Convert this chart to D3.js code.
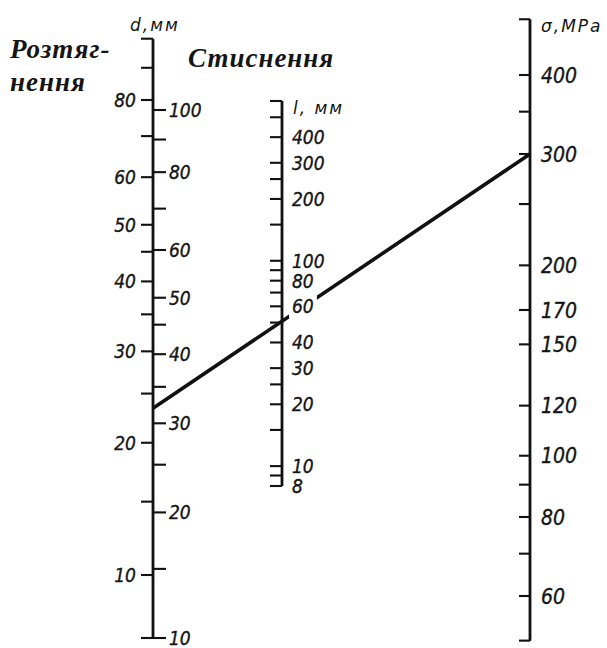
<!DOCTYPE html>
<html>
<head>
<meta charset="utf-8">
<script src="https://cdn.jsdelivr.net/npm/d3@7"></script>
<style>
  body { margin: 0; background: #fff; }
  svg { display: block; }
  .num { font-family: "DejaVu Sans Condensed", "DejaVu Sans", sans-serif; font-style: italic; font-size: 19px; fill: #151515; stroke: #151515; stroke-width: 0.35px; }
  .num.big { font-size: 21px; }
  .unit { font-family: "DejaVu Sans", sans-serif; font-style: italic; font-size: 17px; fill: #151515; letter-spacing: 2px; }
  .title { font-family: "Liberation Serif", "DejaVu Serif", serif; font-style: italic; font-weight: bold; font-size: 27px; letter-spacing: 1px; fill: #151515; }
  .axis { stroke: #111; stroke-width: 2.8; fill: none; }
  .tick { stroke: #111; stroke-width: 2.1; }
  .key { stroke: #111; stroke-width: 3.6; stroke-linecap: butt; }
</style>
</head>
<body>
<script>
// Diameter d, mm — tension scale (left of the shared axis)
const dTensionTicks  = [100, 90, 80, 70, 60, 50, 45, 40, 35, 30, 25, 20, 15, 10];
const dTensionLabels = [80, 60, 50, 40, 30, 20, 10];
// Diameter d, mm — compression scale (right of the shared axis)
const dCompTicks  = [100, 90, 80, 70, 60, 50, 45, 40, 35, 30, 25, 20, 15, 10];
const dCompLabels = [100, 80, 60, 50, 40, 30, 20, 10];
// Length l, mm
const lExtent = [600, 8];
const lTicks  = [500, 400, 300, 250, 200, 150, 100, 90, 80, 70, 60, 50, 40, 30, 25, 20, 15, 10, 9, 8];
const lLabels = [400, 300, 200, 100, 80, 60, 40, 30, 20, 10, 8];
// Stress sigma, MPa
const sigmaExtent = [490, 51];
const sigmaTicks  = [400, 350, 300, 250, 200, 170, 150, 120, 100, 90, 80, 70, 60];
const sigmaLabels = [400, 300, 200, 170, 150, 120, 100, 80, 60];
// Worked example: key line from d (compression) to sigma
const exampleD = 32;
const exampleSigma = 300;

const W = 607, H = 648;
const xD = 153, xL = 282, xS = 530;

// Functional scales of the nomogram (shifted logarithms for d)
const tensionShift = 8, compShift = 10;
const yTbase = d3.scaleLog().domain([80 + tensionShift, 10 + tensionShift]).range([100, 575]);
const yCbase = d3.scaleLog().domain([100 + compShift, 10 + compShift]).range([110, 638]);
const yTension = d => yTbase(d + tensionShift);
const yComp = d => yCbase(d + compShift);
const yL = d3.scaleLog().domain(lExtent).range([101, 486]);
const yS = d3.scaleLog().domain([400, 60]).range([75, 596]);

const svg = d3.select("body").append("svg").attr("width", W).attr("height", H);
svg.append("rect").attr("width", W).attr("height", H).attr("fill", "#fff");

// ---- d axis (shared line) ----
const gD = svg.append("g");
gD.append("line").attr("class", "axis")
  .attr("x1", xD).attr("x2", xD)
  .attr("y1", yTension(d3.max(dTensionTicks))).attr("y2", yComp(d3.min(dCompTicks)) + 1);
gD.selectAll(".tt").data(dTensionTicks).join("line").attr("class", "tick")
  .attr("x1", xD - 12).attr("x2", xD).attr("y1", yTension).attr("y2", yTension);
gD.selectAll(".ct").data(dCompTicks).join("line").attr("class", "tick")
  .attr("x1", xD).attr("x2", xD + 13).attr("y1", yComp).attr("y2", yComp);
// bottom end cap
gD.append("line").attr("class", "tick")
  .attr("x1", xD - 12).attr("x2", xD).attr("y1", yComp(10)).attr("y2", yComp(10));
gD.selectAll(".tl").data(dTensionLabels).join("text").attr("class", "num")
  .attr("x", xD - 17).attr("y", yTension).attr("dy", "0.36em")
  .attr("text-anchor", "end").text(d => d);
gD.selectAll(".cl").data(dCompLabels).join("text").attr("class", "num")
  .attr("x", xD + 16).attr("y", yComp).attr("dy", "0.36em")
  .text(d => d);
gD.append("text").attr("class", "unit").attr("x", xD - 23).attr("y", 31).text("d,мм");

// ---- key line ----
svg.append("line").attr("class", "key")
  .attr("x1", xD).attr("y1", yComp(exampleD))
  .attr("x2", xS).attr("y2", yS(exampleSigma));

// ---- l axis ----
const gL = svg.append("g");
gL.append("line").attr("class", "axis")
  .attr("x1", xL).attr("x2", xL).attr("y1", yL(lExtent[0])).attr("y2", yL(lExtent[1]));
gL.selectAll(".lt").data([lExtent[0], ...lTicks]).join("line").attr("class", "tick")
  .attr("x1", xL - 12).attr("x2", xL).attr("y1", yL).attr("y2", yL);
const lLab = gL.selectAll(".ll").data(lLabels).join("g");
lLab.append("text").attr("class", "num")
  .attr("x", xL + 10).attr("y", yL).attr("dy", "0.36em").text(d => d);
lLab.each(function () {
  const g = d3.select(this);
  const b = g.select("text").node().getBBox();
  g.insert("rect", "text").attr("x", b.x - 3).attr("y", b.y - 1)
    .attr("width", b.width + 6).attr("height", b.height + 2).attr("fill", "#fff");
});
gL.append("text").attr("class", "unit").attr("x", xL + 11).attr("y", 114).text("l, мм");

// ---- sigma axis ----
const gS = svg.append("g");
gS.append("line").attr("class", "axis")
  .attr("x1", xS).attr("x2", xS).attr("y1", yS(sigmaExtent[0])).attr("y2", yS(sigmaExtent[1]));
gS.selectAll(".st").data([sigmaExtent[0], ...sigmaTicks, sigmaExtent[1]]).join("line").attr("class", "tick")
  .attr("x1", xS - 11).attr("x2", xS).attr("y1", yS).attr("y2", yS);
gS.selectAll(".sl").data(sigmaLabels).join("text").attr("class", "num big")
  .attr("x", xS + 11).attr("y", yS).attr("dy", "0.36em").text(d => d);
gS.append("text").attr("class", "unit").attr("x", xS + 11).attr("y", 32).text("σ,MPa");

// ---- scale titles ----
svg.append("text").attr("class", "title").attr("x", 10).attr("y", 58).text("Розтяг-");
svg.append("text").attr("class", "title").attr("x", 10).attr("y", 91).text("нення");
svg.append("text").attr("class", "title").attr("x", 188).attr("y", 67).text("Стиснення");
</script>
</body>
</html>
